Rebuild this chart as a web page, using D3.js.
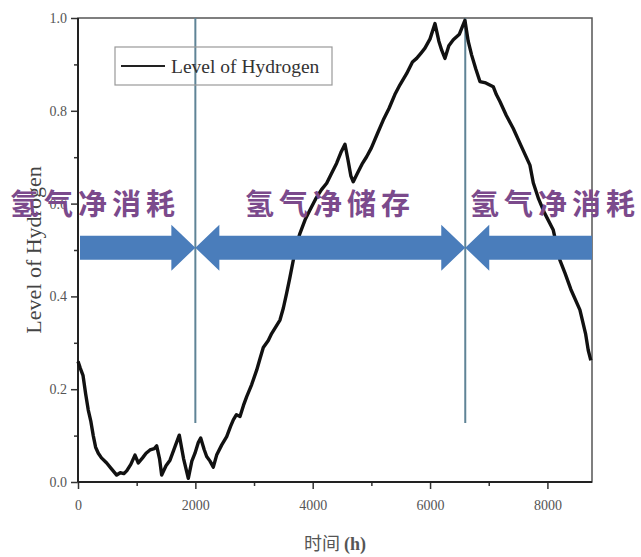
<!DOCTYPE html>
<html>
<head>
    <title>Level of Hydrogen</title>
    <script src="https://d3js.org/d3.v7.min.js"></script>
    <style>
        body {
            margin: 0;
            background-color: #fff;
        }
        svg text {
            font-family: "Liberation Serif", "Times New Roman", serif;
        }
        .tick text {
            fill: #555;
            font-size: 14px;
        }
        .zh {
            font-family: "Noto Sans CJK SC", sans-serif !important;
            fill: #7b4a8c;
            font-size: 29px;
            letter-spacing: 5px;
            font-weight: bold;
        }
    </style>
</head>
<body>
    <div id="chart"></div>
    <script>
        // 数据: 小时 / 氢气水平
        const hours = [0, 40, 85, 130, 175, 220, 260, 300, 346, 400, 489, 560, 659, 720, 780, 830, 900, 971, 1028, 1100,
            1160, 1227, 1300, 1341, 1390, 1426, 1500, 1568, 1650, 1726, 1800, 1880, 1940, 1994, 2050, 2091, 2150, 2193,
            2250, 2306, 2363, 2450, 2534, 2600, 2647, 2700, 2761, 2820, 2875, 2960, 3045, 3100, 3158, 3243, 3300, 3442,
            3500, 3556, 3610, 3669, 3720, 3783, 3870, 3953, 4050, 4150, 4238, 4320, 4408, 4480, 4550, 4600, 4650, 4691,
            4760, 4840, 4919, 5000, 5100, 5202, 5300, 5400, 5487, 5600, 5700, 5771, 5850, 5913, 6000, 6084, 6150, 6200,
            6254, 6320, 6396, 6500, 6594, 6650, 6709, 6780, 6850, 6950, 7077, 7130, 7191, 7300, 7418, 7550, 7702, 7759,
            7850, 7950, 8100, 8213, 8300, 8400, 8554, 8650, 8696, 8740];
        const levels = [0.26, 0.245, 0.23, 0.19, 0.155, 0.13, 0.10, 0.075, 0.062, 0.052, 0.041, 0.03, 0.015, 0.02, 0.018,
            0.024, 0.038, 0.058, 0.041, 0.052, 0.062, 0.069, 0.072, 0.078, 0.05, 0.015, 0.035, 0.047, 0.075, 0.101, 0.05,
            0.008, 0.045, 0.062, 0.085, 0.095, 0.07, 0.055, 0.045, 0.032, 0.058, 0.08, 0.098, 0.12, 0.134, 0.145, 0.141,
            0.165, 0.184, 0.21, 0.241, 0.265, 0.29, 0.305, 0.32, 0.349, 0.375, 0.407, 0.44, 0.478, 0.51, 0.536, 0.565,
            0.586, 0.61, 0.63, 0.644, 0.665, 0.687, 0.71, 0.728, 0.695, 0.66, 0.647, 0.665, 0.685, 0.701, 0.72, 0.75,
            0.78, 0.805, 0.835, 0.856, 0.88, 0.905, 0.913, 0.925, 0.935, 0.955, 0.988, 0.95, 0.93, 0.913, 0.94, 0.953,
            0.965, 0.995, 0.95, 0.92, 0.89, 0.863, 0.86, 0.852, 0.835, 0.82, 0.79, 0.762, 0.725, 0.683, 0.645, 0.61,
            0.58, 0.543, 0.478, 0.45, 0.415, 0.371, 0.32, 0.284, 0.262];

        const xTicks = [0, 2000, 4000, 6000, 8000];
        const yTicks = [0, 0.2, 0.4, 0.6, 0.8, 1.0];
        const markers = [2000, 6600];           // 竖线位置
        const phases = [
            { label: '氢气净消耗', from: 0, to: 2000, dir: 'right' },
            { label: '氢气净储存', from: 2000, to: 6600, dir: 'both' },
            { label: '氢气净消耗', from: 6600, to: 8760, dir: 'left' }
        ];

        const width = 641, height = 557;
        const margin = { top: 18, right: 49, bottom: 75, left: 78 };
        const w = width - margin.left - margin.right;
        const h = height - margin.top - margin.bottom;

        const svg = d3.select('#chart').append('svg')
            .attr('width', width).attr('height', height);
        const g = svg.append('g').attr('transform', `translate(${margin.left},${margin.top})`);

        const x = d3.scaleLinear().domain([0, 8760]).range([0, w]);
        const y = d3.scaleLinear().domain([0, 1]).range([h, 0]);

        // 轴
        g.append('g').attr('transform', `translate(0,${h})`)
            .call(d3.axisBottom(x).tickValues(xTicks).tickFormat(d3.format('d')).tickSize(7).tickPadding(11));
        g.append('g').attr('transform', `translate(0,${h})`)
            .call(d3.axisBottom(x).tickValues([1000, 3000, 5000, 7000]).tickFormat('').tickSize(4));
        g.append('g')
            .call(d3.axisLeft(y).tickValues(yTicks).tickFormat(d3.format('.1f')).tickSize(7).tickPadding(4));
        g.append('g')
            .call(d3.axisLeft(y).tickValues([0.1, 0.3, 0.5, 0.7, 0.9]).tickFormat('').tickSize(4));
        g.selectAll('.domain').remove();
        g.selectAll('.tick line').attr('stroke', '#333').attr('stroke-width', 1.5);

        // 边框
        g.append('rect').attr('width', w).attr('height', h)
            .attr('fill', 'none').attr('stroke', '#555').attr('stroke-width', 1.5);
        g.append('line').attr('x1', 0).attr('x2', w).attr('y1', h).attr('y2', h)
            .attr('stroke', '#222').attr('stroke-width', 2);
        g.append('line').attr('x1', 0).attr('x2', 0).attr('y1', 0).attr('y2', h)
            .attr('stroke', '#222').attr('stroke-width', 2);

        // 竖线
        g.selectAll('.marker').data(markers).enter().append('line')
            .attr('x1', d => x(d)).attr('x2', d => x(d))
            .attr('y1', 0).attr('y2', y(0.127))
            .attr('stroke', '#5f8496').attr('stroke-width', 2);

        // 曲线
        const pts = hours.map((d, i) => [d, levels[i]]);
        g.append('path').datum(pts)
            .attr('fill', 'none').attr('stroke', '#111').attr('stroke-width', 3.4)
            .attr('stroke-linejoin', 'round')
            .attr('d', d3.line().x(d => x(d[0])).y(d => y(d[1])));

        // 箭头
        const ay = y(0.505), bodyH = 12, headH = 23, headW = 24;
        const arrowPath = (p) => {
            const x0 = x(p.from) + (p.from === 0 ? 2 : 0), x1 = x(p.to);
            const l = p.dir === 'right' ? x0 : x0 + headW;
            const r = p.dir === 'left' ? x1 : x1 - headW;
            let s = '';
            if (p.dir === 'right') {
                s = `M${x0},${ay - bodyH}L${r},${ay - bodyH}L${r},${ay - headH}L${x1},${ay}L${r},${ay + headH}L${r},${ay + bodyH}L${x0},${ay + bodyH}Z`;
            } else if (p.dir === 'left') {
                s = `M${x0},${ay}L${l},${ay - headH}L${l},${ay - bodyH}L${x1},${ay - bodyH}L${x1},${ay + bodyH}L${l},${ay + bodyH}L${l},${ay + headH}Z`;
            } else {
                s = `M${x0},${ay}L${l},${ay - headH}L${l},${ay - bodyH}L${r},${ay - bodyH}L${r},${ay - headH}L${x1},${ay}L${r},${ay + headH}L${r},${ay + bodyH}L${l},${ay + bodyH}L${l},${ay + headH}Z`;
            }
            return s;
        };
        g.selectAll('.arrow').data(phases).enter().append('path')
            .attr('d', arrowPath).attr('fill', '#4a7dbb');

        // 图例
        const lg = g.append('g').attr('transform', 'translate(37,29)');
        lg.append('rect').attr('width', 217).attr('height', 38)
            .attr('fill', 'none').attr('stroke', '#999').attr('stroke-width', 1.2);
        lg.append('line').attr('x1', 6).attr('x2', 50).attr('y1', 19).attr('y2', 19)
            .attr('stroke', '#222').attr('stroke-width', 2);
        lg.append('text').attr('x', 56).attr('y', 26).attr('font-size', 19.5).attr('fill', '#333')
            .text('Level of Hydrogen');

        // 轴标题
        svg.append('text')
            .attr('transform', 'translate(41,250) rotate(-90)')
            .attr('text-anchor', 'middle').attr('font-size', 22).attr('fill', '#444')
            .text('Level of Hydrogen');
        const xt = svg.append('text').attr('x', 335).attr('y', 550)
            .attr('text-anchor', 'middle').attr('font-size', 18).attr('fill', '#555');
        xt.append('tspan').attr('font-family', '"Noto Sans CJK SC", sans-serif').text('时间 ');
        xt.append('tspan').attr('font-weight', 'bold').text('(h)');

        // 阶段文字
        const textX = [95, 330, 555];
        svg.selectAll('.zh').data(phases).enter().append('text')
            .attr('class', 'zh')
            .attr('x', (d, i) => textX[i]).attr('y', 215)
            .attr('text-anchor', 'middle')
            .text(d => d.label);
    </script>
</body>
</html>
